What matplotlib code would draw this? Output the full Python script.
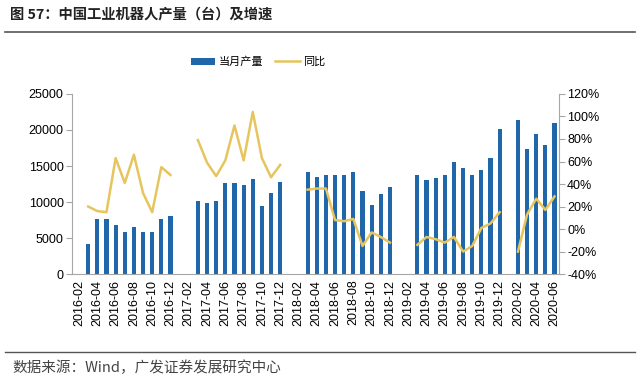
import numpy as np
import pandas as pd
import matplotlib
matplotlib.use("Agg")
import matplotlib.pyplot as plt
from matplotlib.patches import Patch
from matplotlib.lines import Line2D

plt.rcParams['font.family'] = ['Liberation Sans', 'Noto Sans CJK SC', 'DejaVu Sans']

# monthly categories 2016-02 .. 2020-06
months = pd.period_range('2016-02', '2020-06', freq='M').strftime('%Y-%m').tolist()

# 当月产量 (台), None = no data
output_2016 = [None, 4200, 7600, 7700, 6800, 5900, 6600, 5800, 5800, 7600, 8000]
output_2017 = [None, None, 10200, 9800, 10100, 12700, 12600, 12400, 13200, 9500, 11300, 12800]
output_2018 = [None, None, 14100, 13500, 13700, 13800, 13700, 14100, 11500, 9600, 11100, 12100]
output_2019 = [None, None, 13700, 13100, 13400, 13700, 15500, 14700, 13700, 14500, 16100, 20200]
output_2020 = [None, 21400, 17300, 19400, 17900, 20900]

# 同比 (%)
yoy_2016 = [None, 20, 16, 15, 63, 41, 66, 32, 15, 55, 48]
yoy_2017 = [None, None, 79, 59, 47, 61, 92, 61, 104, 63, 46, 57]
yoy_2018 = [None, None, 35, 36, 36, 8, 7, 9, -15, -3, -7, -12]
yoy_2019 = [None, None, -14, -7, -9, -12, -7, -20, -15, 1, 5, 15]
yoy_2020 = [None, -20, 13, 27, 17, 29]

output = output_2016 + output_2017 + output_2018 + output_2019 + output_2020
yoy = yoy_2016 + yoy_2017 + yoy_2018 + yoy_2019 + yoy_2020
output = np.array([np.nan if v is None else v for v in output], dtype=float)
yoy = np.array([np.nan if v is None else v for v in yoy], dtype=float)

x = np.arange(len(months))

bar_color = '#1f67a9'
line_color = '#e6c55e'
spine_color = '#a6a6a6'
cjk = ['Noto Sans CJK SC', 'DejaVu Sans']

fig = plt.figure(figsize=(6.4, 3.85), dpi=100)
ax = fig.add_axes([0.1125, 0.288, 0.7605, 0.468])
ax2 = ax.twinx()

ax.bar(x, np.nan_to_num(output), width=0.45, color=bar_color, zorder=2)
ax2.plot(x, yoy, color=line_color, lw=1.8, zorder=3)

ax.set_xlim(-0.77, 52.46)
ax.set_ylim(0, 25000)
ax.set_yticks(range(0, 25001, 5000))
ax2.set_ylim(-40, 120)
ax2.set_yticks(range(-40, 121, 20))
ax2.set_yticklabels(['%d%%' % v for v in range(-40, 121, 20)])

ax.set_xticks(x[::2])
ax.set_xticklabels(months[::2], rotation=90, fontsize=9)
ax.tick_params(axis='x', length=0, pad=4)
ax.tick_params(axis='y', labelsize=9, length=4, color=spine_color, pad=2)
ax2.tick_params(axis='y', labelsize=9, length=4, color=spine_color, pad=2)

for a in (ax, ax2):
    a.spines['top'].set_visible(False)
    for s in ('left', 'right', 'bottom'):
        a.spines[s].set_color(spine_color)
ax2.spines['left'].set_visible(False)
ax.spines['right'].set_visible(False)
ax2.spines['bottom'].set_visible(False)

# legend
handles = [Patch(facecolor=bar_color), Line2D([0], [0], color=line_color, lw=1.8)]
fig.legend(handles, ['当月产量', '同比'], loc='center', bbox_to_anchor=(0.403, 0.839),
           ncol=2, frameon=False, prop={'family': cjk, 'size': 8},
           handlelength=2.2, handleheight=0.6, columnspacing=1.1, handletextpad=0.3)

# title & source
fig.text(0.016, 0.963, '图 57：中国工业机器人产量（台）及增速', fontsize=10.3, fontweight='bold',
         va='center', ha='left', color='#222222', family=cjk)
fig.add_artist(Line2D([0.008, 0.992], [0.917, 0.917], color='#555555', lw=1.2))
fig.add_artist(Line2D([0.008, 0.992], [0.086, 0.086], color='#555555', lw=1.0))
fig.text(0.02, 0.044, '数据来源：Wind，广发证券发展研究中心', fontsize=10.5, va='center', ha='left',
         color='#444444', family=cjk)

fig.savefig('out.png', dpi=100)
